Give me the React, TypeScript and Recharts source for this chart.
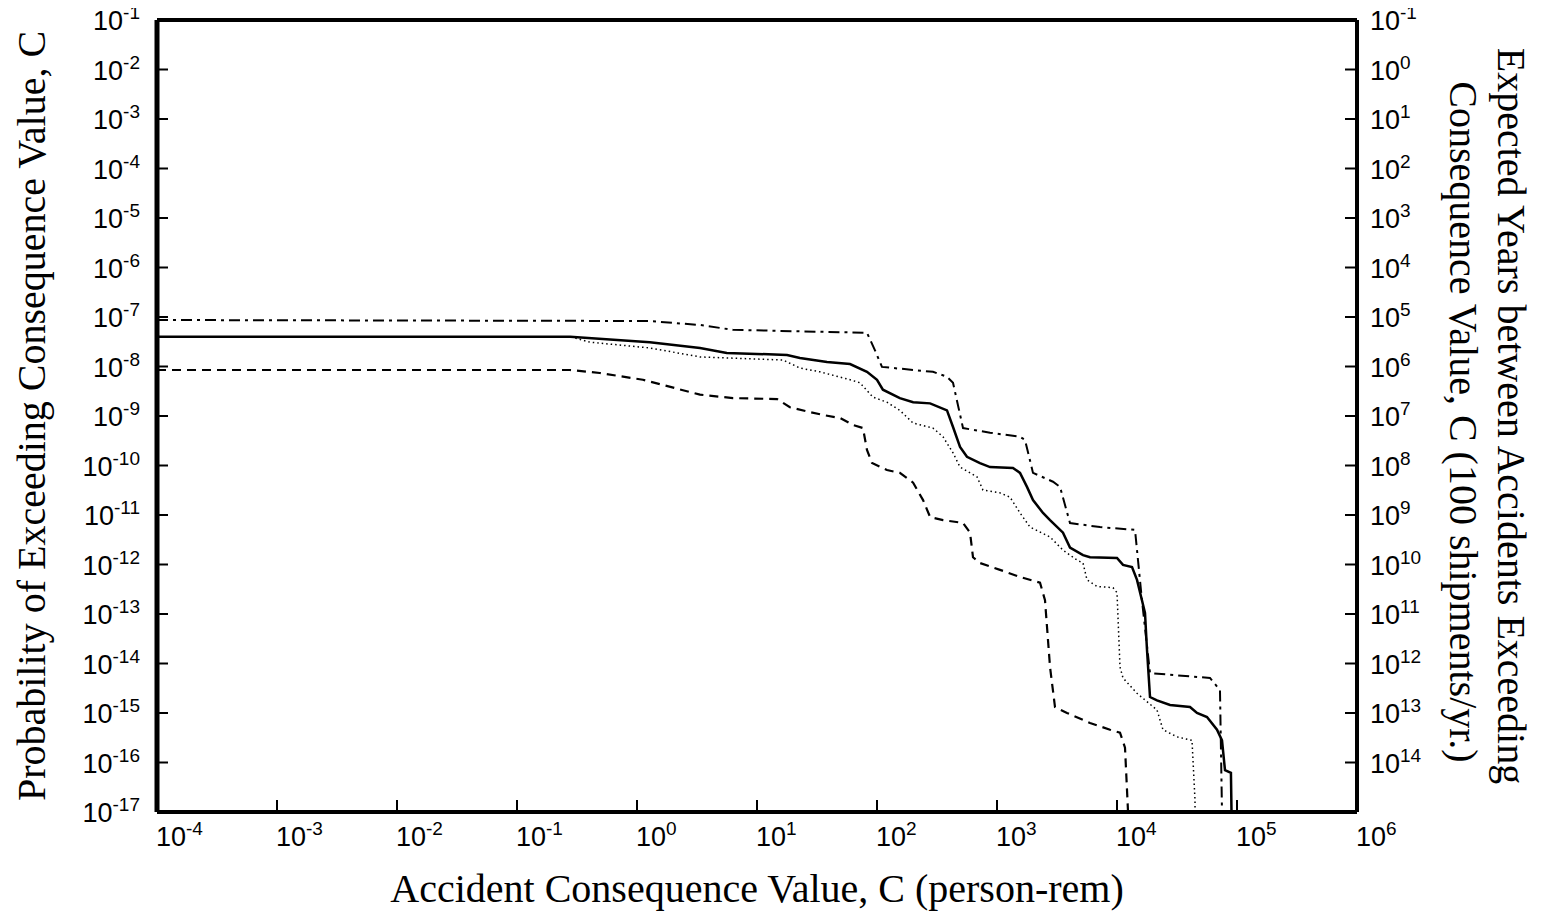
import React from 'react';
import { LineChart, Line, XAxis, YAxis } from 'recharts';

// ---------- tick values & labels ----------
const consequenceTicks = [1e-4, 1e-3, 1e-2, 1e-1, 1, 10, 100, 1e3, 1e4, 1e5, 1e6];
const probabilityTicks = [
  1e-1, 1e-2, 1e-3, 1e-4, 1e-5, 1e-6, 1e-7, 1e-8, 1e-9, 1e-10, 1e-11, 1e-12, 1e-13, 1e-14, 1e-15, 1e-16, 1e-17,
];
const yearsTicks = probabilityTicks.slice(0, 16);
const yearsTickExponents = ['-1', '0', '1', '2', '3', '4', '5', '6', '7', '8', '9', '10', '11', '12', '13', '14'];

// ---------- series: [consequence (person-rem), probability of exceeding] ----------
const dashDotCurve: [number, number][] = [
  [1e-4, 8.7e-8], [1.28, 8.3e-8], [3.35, 6.9e-8], [6.3, 5.5e-8], [82.5, 4.8e-8], [96, 2.15e-8],
  [110, 9.8e-9], [293, 7.8e-9], [383, 6.2e-9], [430, 4.7e-9], [521, 5.7e-10], [875, 4.6e-10],
  [1555, 3.8e-10], [1711, 3.3e-10], [1995, 7.1e-11], [2929, 4.7e-11], [3350, 3.7e-11], [4058, 6.9e-12],
  [7217, 5.7e-12], [14130, 5.0e-12], [16140, 1.9e-13], [18840, 6.4e-15], [59570, 5.1e-15],
  [72140, 2.9e-15], [75000, 1e-17],
];
const solidCurve: [number, number][] = [
  [1e-4, 4.0e-8], [0.277, 4.0e-8], [1.28, 3.1e-8], [3.35, 2.37e-8], [5.6, 1.88e-8], [17.8, 1.71e-8],
  [22.8, 1.49e-8], [38.3, 1.23e-8], [59.6, 1.12e-8], [82.5, 7.8e-9], [100, 5.4e-9], [112, 3.4e-9],
  [155, 2.3e-9], [200, 1.9e-9], [277, 1.8e-9], [383, 1.3e-9], [430, 6.0e-10], [492, 2.37e-10],
  [562, 1.5e-10], [721, 1.12e-10], [875, 9.3e-11], [1359, 8.9e-11], [1555, 7.1e-11], [1778, 3.7e-11],
  [1995, 2.0e-11], [2418, 1.1e-11], [2766, 7.9e-12], [3548, 4.4e-12], [4058, 2.2e-12], [5210, 1.55e-12],
  [5957, 1.4e-12], [10000, 1.35e-12], [11220, 9.8e-13], [13340, 8.9e-13], [14680, 4.9e-13],
  [16140, 1.9e-13], [17110, 1.05e-13], [17780, 1.9e-14], [18840, 2.1e-15], [21540, 1.8e-15],
  [27660, 1.45e-15], [40580, 1.32e-15], [46420, 1.0e-15], [56230, 8.3e-16], [68130, 4.6e-16],
  [74990, 2.8e-16], [79430, 7.0e-17], [89000, 6.2e-17], [90000, 1e-17],
];
const dottedCurve: [number, number][] = [
  [1e-4, 4.0e-8], [0.277, 4.0e-8], [0.406, 3.1e-8], [1.28, 2.37e-8], [3.35, 1.56e-8], [16.5, 1.35e-8],
  [22.8, 9.3e-9], [33.5, 7.8e-9], [59.6, 5.4e-9], [72, 4.7e-9], [92.6, 2.4e-9], [121, 1.9e-9],
  [155, 1.3e-9], [200, 7.2e-10], [293, 5.7e-10], [355, 3.8e-10], [430, 1.8e-10], [492, 9.3e-11],
  [681, 5.9e-11], [764, 3.2e-11], [1059, 2.8e-11], [1283, 2.3e-11], [1555, 1.1e-11], [1884, 5.7e-12],
  [2766, 3.6e-12], [3548, 1.95e-12], [4642, 1.23e-12], [5210, 1.07e-12], [5623, 4.9e-13],
  [6813, 3.6e-13], [9268, 3.4e-13], [10000, 2.7e-13], [10593, 8.5e-15], [11220, 5.1e-15],
  [14680, 2.5e-15], [21540, 1.15e-15], [24150, 4.6e-16], [31620, 3.3e-16], [42170, 2.8e-16],
  [44670, 1.75e-17], [44700, 1e-17],
];
const dashedCurve: [number, number][] = [
  [1e-4, 8.5e-9], [0.277, 8.5e-9], [0.49, 7.4e-9], [1.12, 5.4e-9], [3.35, 2.7e-9], [6.3, 2.3e-9],
  [14.7, 2.2e-9], [18.8, 1.5e-9], [27.7, 1.2e-9], [35.5, 1.05e-9], [49.2, 9.1e-10], [63, 6.6e-10],
  [76.4, 5.7e-10], [82.5, 2.06e-10], [90.9, 1.12e-10], [121, 8.1e-11], [155, 7.1e-11], [200, 4.5e-11],
  [242, 2.0e-11], [277, 9.1e-12], [355, 7.9e-12], [521, 6.9e-12], [596, 4.4e-12], [631, 1.4e-12],
  [721, 1.07e-12], [1059, 7.8e-13], [1555, 5.6e-13], [2282, 4.3e-13], [2512, 1.9e-13], [2766, 8.5e-15],
  [3043, 1.32e-15], [3831, 1.0e-15], [5957, 6.3e-16], [8750, 4.6e-16], [10593, 4.0e-16],
  [11660, 2.0e-16], [12360, 1e-17],
];

const toRows = (pts: [number, number][]) => pts.map(([c, p]) => ({ c, p }));

// ---------- layout ----------
const W = 1527;
const H = 911;
const MARGIN = { top: 18, right: 78, bottom: 39, left: 49 };
const PLOT_LEFT = 149;
const PLOT_RIGHT = 1349;
const PLOT_MID_X = (PLOT_LEFT + PLOT_RIGHT) / 2;
const PLOT_MID_Y = 416;

const SANS = '"Liberation Sans", Arial, Helvetica, sans-serif';
const SERIF = '"Liberation Serif", "Times New Roman", Times, serif';
const TITLE_SIZE = 40;
const TICK_SIZE = 27;
const SUP_SIZE = 19;

const exp10 = (v: number) => String(Math.round(Math.log10(v)));

function BottomTick(props: any) {
  const { x, y, payload } = props;
  return (
    <g>
      <line x1={x} x2={x} y1={y} y2={y - 12} stroke="#000" strokeWidth={2} />
      <text x={x - 1} y={y + 34} textAnchor="start" fontFamily={SANS} fontSize={TICK_SIZE} fill="#000">
        10
        <tspan dy={-11} fontSize={SUP_SIZE}>{exp10(payload.value)}</tspan>
      </text>
    </g>
  );
}

function TopTick(props: any) {
  const { x, y } = props;
  return <line x1={x} x2={x} y1={y} y2={y + 11} stroke="#000" strokeWidth={2} />;
}

function LeftTick(props: any) {
  const { x, y, payload } = props;
  return (
    <g>
      <line x1={x} x2={x + 11} y1={y} y2={y} stroke="#000" strokeWidth={2} />
      <text x={x - 17} y={y + 10} textAnchor="end" fontFamily={SANS} fontSize={TICK_SIZE} fill="#000">
        10
        <tspan dy={-11} fontSize={SUP_SIZE}>{exp10(payload.value)}</tspan>
      </text>
    </g>
  );
}

function RightTick(props: any) {
  const { x, y, payload } = props;
  const i = yearsTicks.findIndex((t) => Math.abs(Math.log10(t) - Math.log10(payload.value)) < 0.01);
  return (
    <g>
      <line x1={x} x2={x - 12} y1={y} y2={y} stroke="#000" strokeWidth={2} />
      {i >= 0 && (
        <text x={x + 13} y={y + 10} textAnchor="start" fontFamily={SANS} fontSize={TICK_SIZE} fill="#000">
          10
          <tspan dy={-11} fontSize={SUP_SIZE}>{yearsTickExponents[i]}</tspan>
        </text>
      )}
    </g>
  );
}

function XTitle() {
  return (
    <text x={PLOT_MID_X} y={902} textAnchor="middle" fontFamily={SERIF} fontSize={TITLE_SIZE} fill="#000">
      Accident Consequence Value, C (person-rem)
    </text>
  );
}

function LeftTitle() {
  return (
    <text
      x={37}
      y={PLOT_MID_Y}
      transform={`rotate(-90, 37, ${PLOT_MID_Y})`}
      textAnchor="middle"
      fontFamily={SERIF}
      fontSize={TITLE_SIZE}
      fill="#000"
    >
      Probability of Exceeding Consequence Value, C
    </text>
  );
}

function RightTitle() {
  return (
    <g>
      <text
        x={1490}
        y={PLOT_MID_Y}
        transform={`rotate(90, 1490, ${PLOT_MID_Y})`}
        textAnchor="middle"
        fontFamily={SERIF}
        fontSize={TITLE_SIZE}
        fill="#000"
      >
        Expected Years between Accidents Exceeding
      </text>
      <text
        x={1442}
        y={PLOT_MID_Y + 6}
        transform={`rotate(90, 1442, ${PLOT_MID_Y + 6})`}
        textAnchor="middle"
        fontFamily={SERIF}
        fontSize={TITLE_SIZE}
        fill="#000"
      >
        Consequence Value, C (100 shipments/yr.)
      </text>
    </g>
  );
}

export default function App() {
  return (
    <div style={{ width: W, height: H, marginTop: -8, background: '#fff' }}>
      <LineChart width={W} height={H} margin={MARGIN}>
        <XAxis
          xAxisId="bottom"
          dataKey="c"
          type="number"
          scale="log"
          domain={[1e-4, 1e6]}
          allowDataOverflow
          ticks={consequenceTicks}
          interval={0}
          orientation="bottom"
          height={60}
          tickSize={0}
          tickMargin={0}
          tickLine={false}
          axisLine={{ stroke: '#000', strokeWidth: 4 }}
          tick={<BottomTick />}
          label={<XTitle />}
        />
        <XAxis
          xAxisId="top"
          type="number"
          scale="log"
          domain={[1e-4, 1e6]}
          allowDataOverflow
          ticks={consequenceTicks}
          interval={0}
          orientation="top"
          height={2}
          tickSize={0}
          tickMargin={0}
          tickLine={false}
          axisLine={{ stroke: '#000', strokeWidth: 4 }}
          tick={<TopTick />}
        />
        <YAxis
          yAxisId="left"
          dataKey="p"
          type="number"
          scale="log"
          domain={[1e-17, 1e-1]}
          allowDataOverflow
          ticks={probabilityTicks}
          interval={0}
          orientation="left"
          width={100}
          tickSize={0}
          tickMargin={0}
          tickLine={false}
          axisLine={{ stroke: '#000', strokeWidth: 5 }}
          tick={<LeftTick />}
          label={<LeftTitle />}
        />
        <YAxis
          yAxisId="right"
          type="number"
          scale="log"
          domain={[1e-17, 1e-1]}
          allowDataOverflow
          ticks={yearsTicks}
          interval={0}
          orientation="right"
          width={100}
          tickSize={0}
          tickMargin={0}
          tickLine={false}
          axisLine={{ stroke: '#000', strokeWidth: 4 }}
          tick={<RightTick />}
          label={<RightTitle />}
        />
        <Line
          xAxisId="bottom"
          yAxisId="left"
          data={toRows(dashDotCurve)}
          dataKey="p"
          type="linear"
          stroke="#000"
          strokeWidth={2}
          strokeDasharray="11 5 3 5"
          dot={false}
          activeDot={false}
          isAnimationActive={false}
        />
        <Line
          xAxisId="bottom"
          yAxisId="left"
          data={toRows(dashedCurve)}
          dataKey="p"
          type="linear"
          stroke="#000"
          strokeWidth={2.2}
          strokeDasharray="9 6"
          dot={false}
          activeDot={false}
          isAnimationActive={false}
        />
        <Line
          xAxisId="bottom"
          yAxisId="left"
          data={toRows(dottedCurve)}
          dataKey="p"
          type="linear"
          stroke="#000"
          strokeWidth={1.5}
          strokeDasharray="1.5 3"
          dot={false}
          activeDot={false}
          isAnimationActive={false}
        />
        <Line
          xAxisId="bottom"
          yAxisId="left"
          data={toRows(solidCurve)}
          dataKey="p"
          type="linear"
          stroke="#000"
          strokeWidth={2.5}
          dot={false}
          activeDot={false}
          isAnimationActive={false}
        />
      </LineChart>
    </div>
  );
}
